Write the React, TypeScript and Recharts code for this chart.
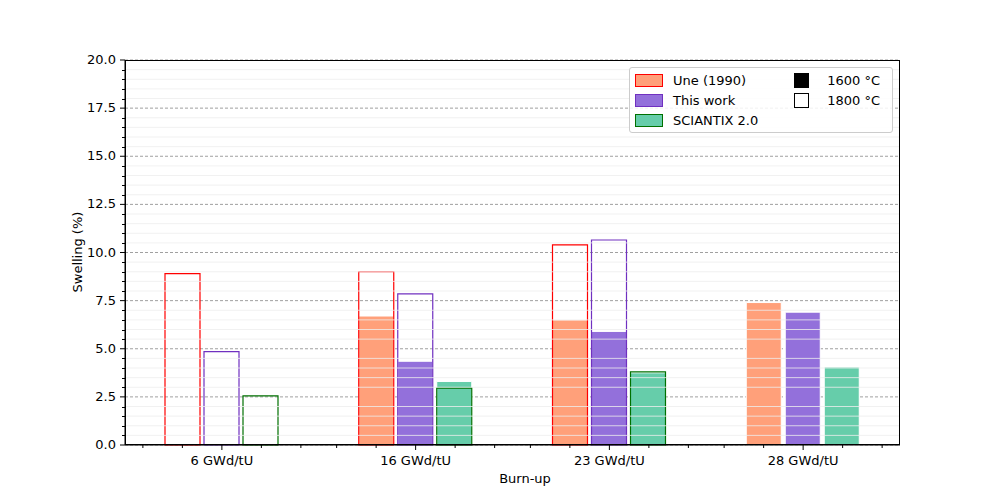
import React from "react";
import { BarChart, Bar, XAxis, YAxis, CartesianGrid, ReferenceLine } from "recharts";

const burnups = ["6 GWd/tU", "16 GWd/tU", "23 GWd/tU", "28 GWd/tU"];
const une1600 = [null, 6.7, 6.5, 7.4];
const work1600 = [null, 4.35, 5.9, 6.9];
const sci1600 = [null, 3.3, 3.75, 4.05];
const une1800 = [8.9, 9.0, 10.4, null];
const work1800 = [4.85, 7.85, 10.65, null];
const sci1800 = [2.55, 2.95, 3.8, null];
const majorTicks = [0, 2.5, 5, 7.5, 10, 12.5, 15, 17.5, 20];
const minorTicks = Array.from({ length: 41 }, (_, i) => i * 0.5).filter((v) => v % 2.5 !== 0);

const data = burnups.map((b, i) => ({
  b,
  u16: une1600[i],
  w16: work1600[i],
  s16: sci1600[i],
  u18: une1800[i],
  w18: work1800[i],
  s18: sci1800[i],
}));

const font = "DejaVu Sans, sans-serif";

// major tick plus matplotlib-style minor ticks around each category
const XTick = ({ x, y, payload }: any) => (
  <g>
    {[-79, -39.5, 39.5, 79].map((dx) => (
      <line key={dx} x1={x + dx} x2={x + dx} y1={y - 8} y2={y - 5} stroke="#000" />
    ))}
    <line x1={x} x2={x} y1={y - 8} y2={y - 3} stroke="#000" />
    <text x={x} y={y + 12} textAnchor="middle" fontSize={13} fontFamily={font} fill="#000">
      {payload.value}
    </text>
  </g>
);

const YTick = ({ x, y, payload }: any) => (
  <text x={x - 2} y={y + 4} textAnchor="end" fontSize={13} fontFamily={font} fill="#000">
    {payload.value.toFixed(1)}
  </text>
);

const legendRow = (fill: string, stroke: string, label: string) => (
  <div style={{ display: "flex", alignItems: "center", height: 20 }}>
    <span style={{ width: 26, height: 11, background: fill, border: `1px solid ${stroke}`, marginRight: 10 }} />
    {label}
  </div>
);

export default function App() {
  return (
    <div style={{ position: "absolute", left: 0, top: 0, width: 1000, height: 500, background: "#fff", fontFamily: font }}>
      <BarChart
        width={1000}
        height={500}
        data={data}
        margin={{ top: 60, right: 100, bottom: 25, left: 65 }}
        barSize={35}
        barGap={4}
      >
        {minorTicks.map((v) => (
          <ReferenceLine key={v} y={v} stroke="#eee" strokeWidth={0.8} />
        ))}
        <CartesianGrid vertical={false} stroke="#888" strokeDasharray="3 2" strokeWidth={0.8} />
        <XAxis xAxisId="a" dataKey="b" stroke="#000" tickLine={false} tick={<XTick />} height={30} />
        <XAxis xAxisId="b" dataKey="b" hide />
        <YAxis
          domain={[0, 20]}
          ticks={majorTicks}
          stroke="#000"
          tickSize={5}
          width={60}
          tick={<YTick />}
          label={{ value: "Swelling (%)", angle: -90, position: "insideLeft", offset: 12, dy: 40, fontSize: 13, fill: "#000", fontFamily: font }}
        />
        {minorTicks.map((v) => (
          <ReferenceLine key={"m" + v} y={v} stroke="none" label={undefined} />
        ))}
        <Bar xAxisId="a" dataKey="u16" fill="#FFA07A" stroke="#fff" isAnimationActive={false} />
        <Bar xAxisId="a" dataKey="w16" fill="#9370DB" stroke="#fff" isAnimationActive={false} />
        <Bar xAxisId="a" dataKey="s16" fill="#66CDAA" stroke="#fff" isAnimationActive={false} />
        <Bar xAxisId="b" dataKey="u18" fill="none" stroke="#ff0000" strokeWidth={1.2} isAnimationActive={false} />
        <Bar xAxisId="b" dataKey="w18" fill="none" stroke="#7030c0" strokeWidth={1.2} isAnimationActive={false} />
        <Bar xAxisId="b" dataKey="s18" fill="none" stroke="#007000" strokeWidth={1.2} isAnimationActive={false} />
      </BarChart>
      {/* frame */}
      <div style={{ position: "absolute", left: 125, top: 60, width: 775, height: 385, border: "1px solid #000", boxSizing: "border-box", pointerEvents: "none" }} />
      {/* minor y ticks */}
      {minorTicks.map((v) => (
        <div key={v} style={{ position: "absolute", left: 122, top: 445 - v * 19.25, width: 3, height: 1, background: "#000" }} />
      ))}
      <div style={{ position: "absolute", left: 0, width: 1000, top: 471, textAlign: "center", fontSize: 13, paddingLeft: 25 }}>Burn-up</div>
      <div
        style={{
          position: "absolute", left: 629, top: 67, width: 264, height: 66, boxSizing: "border-box",
          border: "1px solid #ccc", borderRadius: 3, background: "rgba(255,255,255,0.85)", fontSize: 13,
          padding: "2px 5px", display: "flex", gap: 36,
        }}
      >
        <div>
          {legendRow("#FFA07A", "#ff0000", "Une (1990)")}
          {legendRow("#9370DB", "#7030c0", "This work")}
          {legendRow("#66CDAA", "#007000", "SCIANTIX 2.0")}
        </div>
        <div>
          <div style={{ display: "flex", alignItems: "center", height: 20 }}>
            <span style={{ width: 13, height: 13, background: "#000", border: "1px solid #000", marginRight: 18 }} />1600 °C
          </div>
          <div style={{ display: "flex", alignItems: "center", height: 20 }}>
            <span style={{ width: 13, height: 13, background: "#fff", border: "1px solid #000", marginRight: 18 }} />1800 °C
          </div>
        </div>
      </div>
    </div>
  );
}
